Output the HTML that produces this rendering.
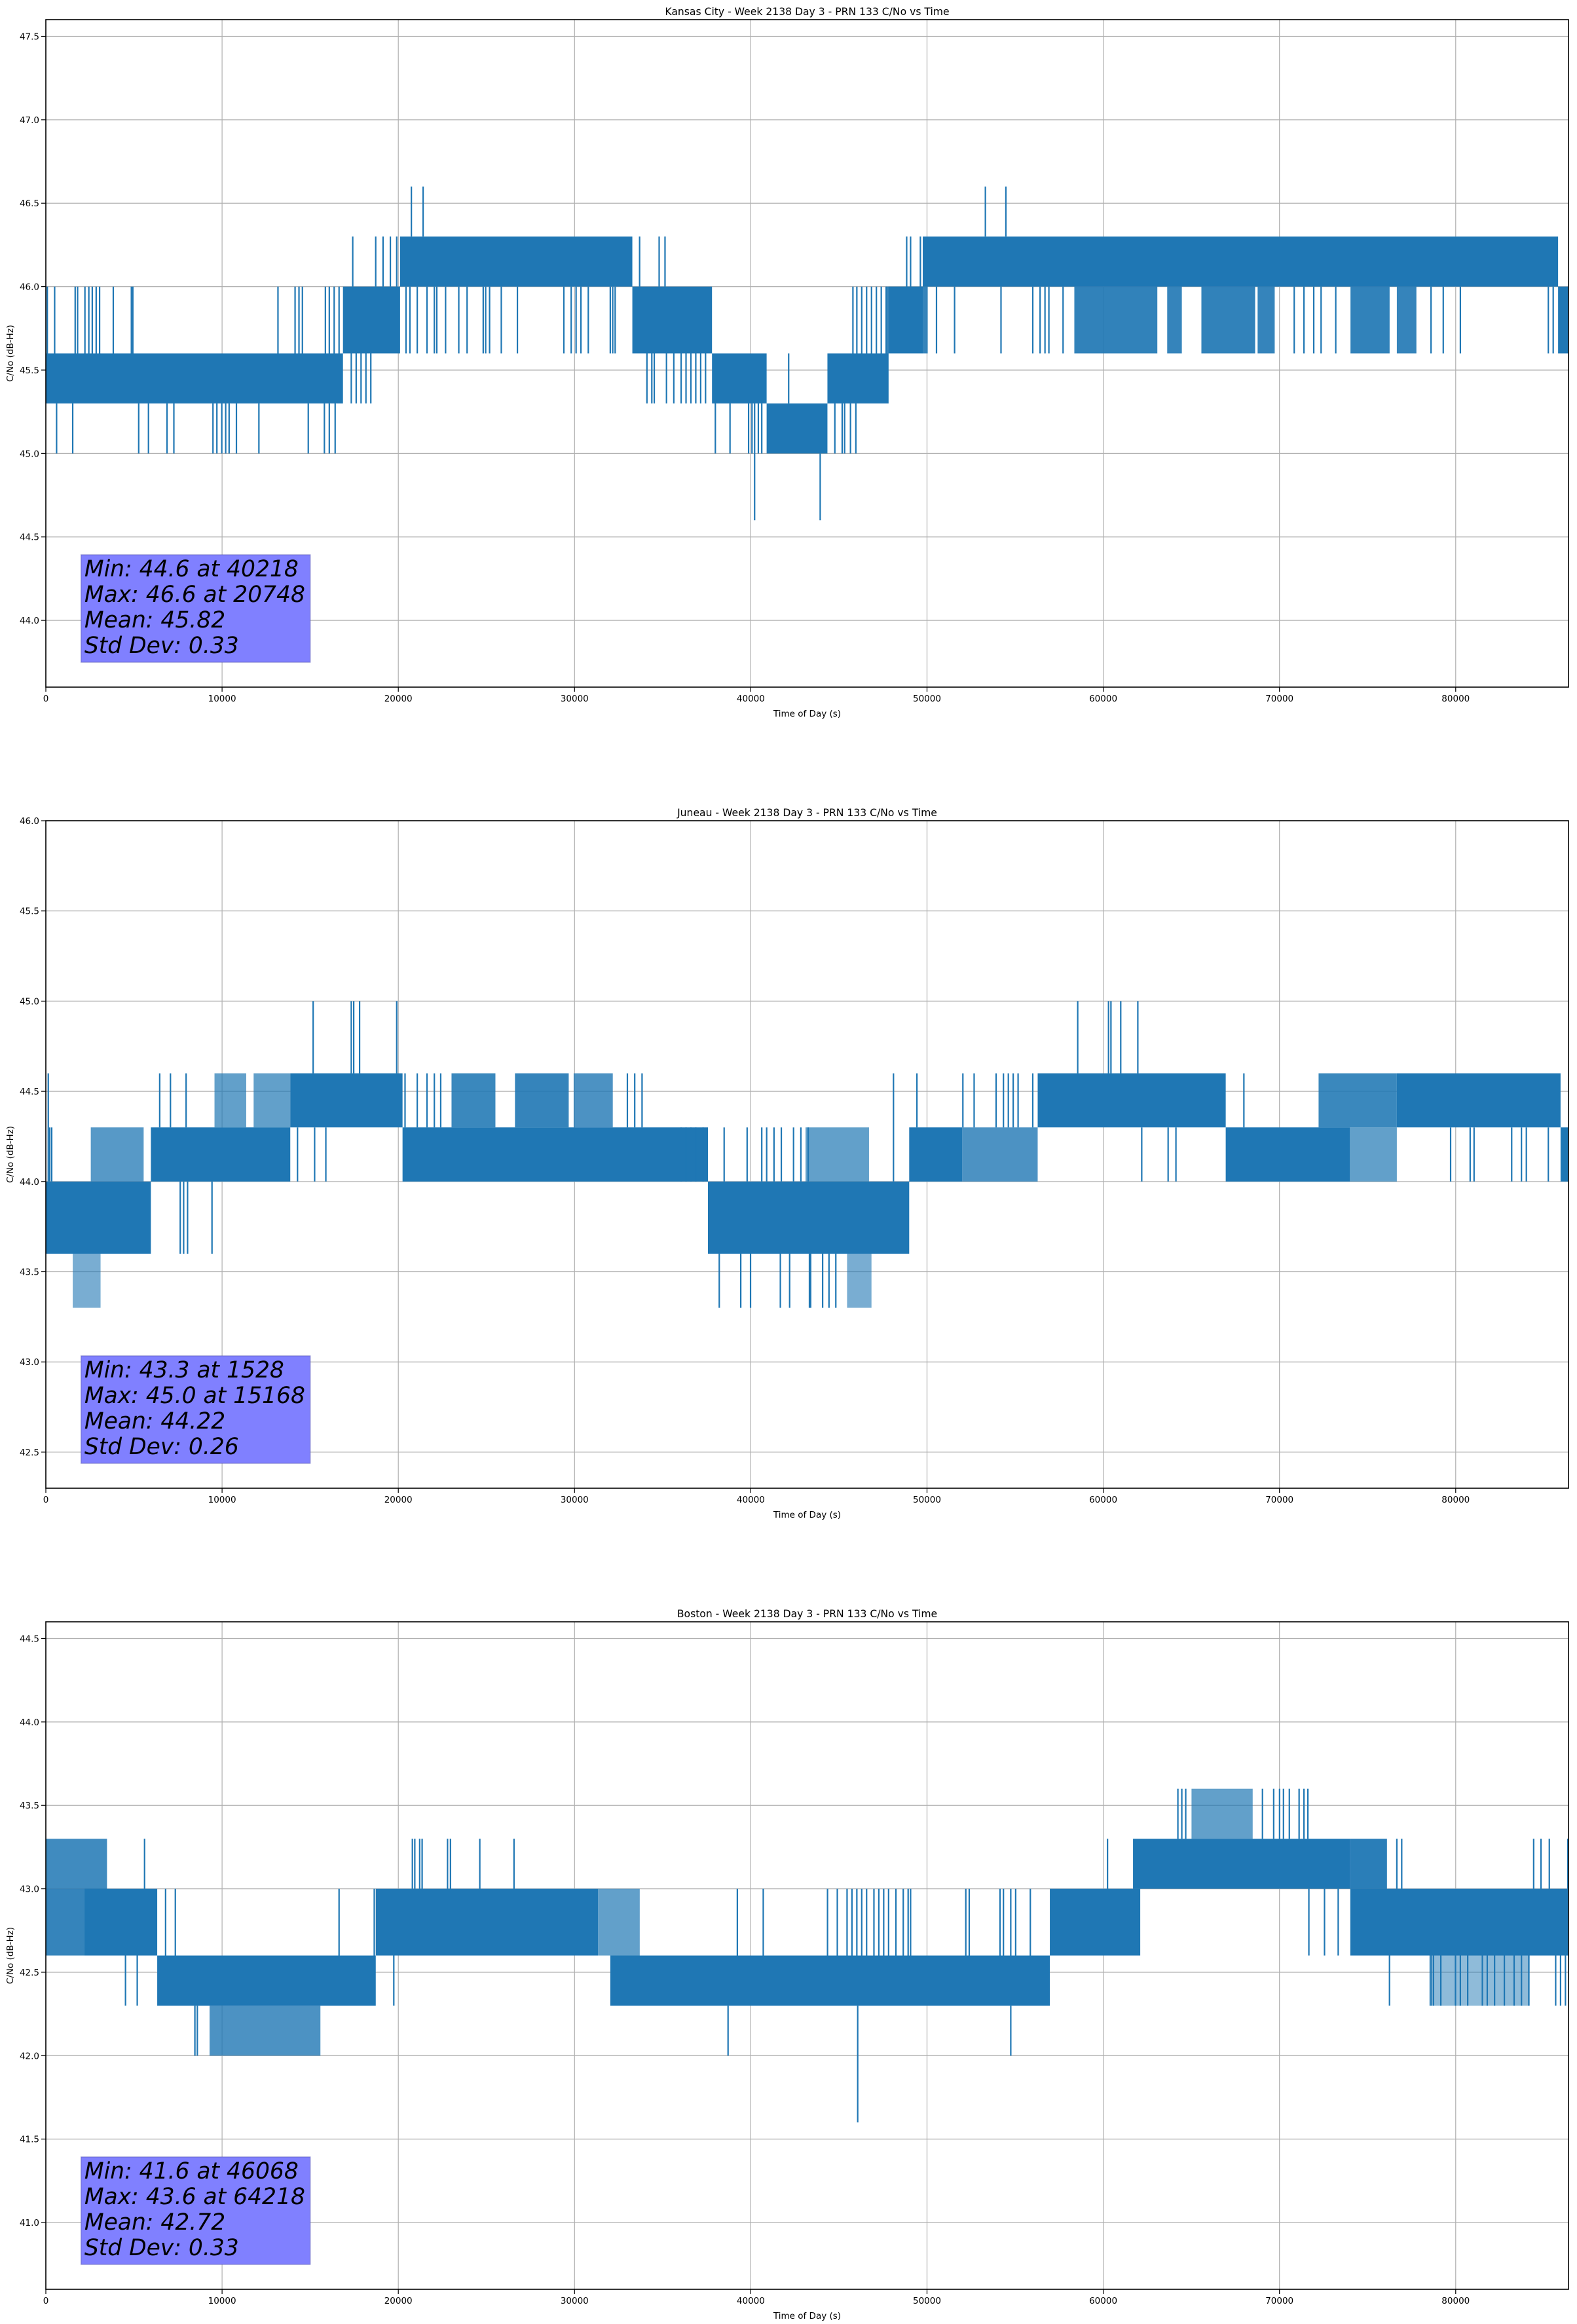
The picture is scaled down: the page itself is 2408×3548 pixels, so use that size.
<!DOCTYPE html>
<html><head><meta charset="utf-8"><style>
html,body{margin:0;padding:0;background:#fff;}
svg{display:block;}
text{font-family:"DejaVu Sans","Liberation Sans",sans-serif;fill:#000;}
</style></head>
<body>
<svg id="fig" xmlns="http://www.w3.org/2000/svg" width="2408" height="3548" viewBox="0 0 2408 3548"></svg>
<script>
// ---------- Kansas City ----------
const p1BandStart=[0,16860,20100,33280,37800,40900,44350,47820,49760,85810];
const p1BandEnd=[16860,20100,33280,37800,40900,44350,47820,49760,85810,86400];
const p1BandLow=[45.3,45.6,46.0,45.6,45.3,45.0,45.3,45.6,46.0,45.6];
const p1BandHigh=[45.6,46.0,46.3,46.0,45.6,45.3,45.6,46.0,46.3,46.0];
const p1HatchStart=[47680,58360,63630,65570,68760,74030,76660];
const p1HatchEnd=[50040,63070,64460,68620,69730,76250,77770];
const p1HatchLow=[45.6,45.6,45.6,45.6,45.6,45.6,45.6];
const p1HatchHigh=[46.0,46.0,46.0,46.0,46.0,46.0,46.0];
const p1HatchDensity=[0.9,0.92,0.9,0.92,0.9,0.92,0.9];
const p1SpikeT=[83,500,1664,1802,2218,2440,2634,2856,3050,3827,4853,4936,13172,14142,14364,14558,15862,16084,16361,16638,
610,1525,5269,5823,6877,7265,9484,9706,9983,10205,10399,10815,12090,14891,15806,16084,16416,
17414,18718,19134,19550,19910,17331,17609,17886,18163,18440,
20742,21408,20437,20659,21075,21629,22045,22184,22683,23432,23903,24818,24957,25179,25844,26759,29394,29810,30087,30364,30780,32028,32167,32305,
33692,34801,35134,34108,34385,34524,35217,35633,36049,36326,36603,36880,37157,37434,
37990,38822,39876,40070,40430,40624,40218,42150,43939,
44771,45187,45325,45658,45963,45797,46019,46296,46573,46851,47128,47405,47682,
48847,49069,49624,53312,54476,
50539,51565,54199,56002,56417,56695,56917,57721,70837,71391,71946,72362,73194,78601,79294,80265,85256,85533];
const p1SpikeV=[46.0,46.0,46.0,46.0,46.0,46.0,46.0,46.0,46.0,46.0,46.0,46.0,46.0,46.0,46.0,46.0,46.0,46.0,46.0,46.0,
45.0,45.0,45.0,45.0,45.0,45.0,45.0,45.0,45.0,45.0,45.0,45.0,45.0,45.0,45.0,45.0,45.0,
46.3,46.3,46.3,46.3,46.3,45.3,45.3,45.3,45.3,45.3,
46.6,46.6,45.6,45.6,45.6,45.6,45.6,45.6,45.6,45.6,45.6,45.6,45.6,45.6,45.6,45.6,45.6,45.6,45.6,45.6,45.6,45.6,45.6,45.6,
46.3,46.3,46.3,45.3,45.3,45.3,45.3,45.3,45.3,45.3,45.3,45.3,45.3,45.3,
45.0,45.0,45.0,45.0,45.0,45.0,44.6,45.6,44.6,
45.0,45.0,45.0,45.0,45.0,46.0,46.0,46.0,46.0,46.0,46.0,46.0,46.0,
46.3,46.3,46.3,46.6,46.6,
45.6,45.6,45.6,45.6,45.6,45.6,45.6,45.6,45.6,45.6,45.6,45.6,45.6,45.6,45.6,45.6,45.6,45.6];
const p1Stats=["Min: 44.6 at 40218","Max: 46.6 at 20748","Mean: 45.82","Std Dev: 0.33"];

// ---------- Juneau ----------
const p2BandStart=[0,5960,13870,20240,37570,48990,56280,66950,76660,85950];
const p2BandEnd=[5960,13870,20240,37570,48990,52000,66950,74000,85950,86400];
const p2BandLow=[43.6,44.0,44.3,44.0,43.6,44.0,44.3,44.0,44.3,44.0];
const p2BandHigh=[44.0,44.3,44.6,44.3,44.0,44.3,44.6,44.3,44.6,44.3];
const p2HatchStart=[1525,2550,9570,11790,23020,26620,29950,43107,45464,52000,72220,74000];
const p2HatchEnd=[3105,5550,11370,13870,25510,29670,32170,46710,46850,56280,76660,76660];
const p2HatchLow=[43.3,44.0,44.3,44.3,44.3,44.3,44.3,44.0,43.3,44.0,44.3,44.0];
const p2HatchHigh=[43.6,44.3,44.6,44.6,44.6,44.6,44.6,44.3,43.6,44.3,44.6,44.3];
const p2HatchDensity=[0.6,0.75,0.7,0.7,0.88,0.9,0.8,0.7,0.6,0.8,0.88,0.7];
const p2SpikeT=[139,222,333,6461,7071,7959,7626,7820,8042,9428,
15168,17331,17470,17803,19910,14281,15252,15889,
20382,21075,21629,22045,22406,32999,33415,33831,
38212,39432,39987,41678,42205,43397,43329,44078,44438,44826,
36049,36326,36603,36880,37296,38489,39793,40624,40902,41318,41734,42427,42843,43259,
48098,49429,52036,52674,53922,54338,54615,54892,55169,56001,
58552,60300,60438,60993,61963,62185,63682,64126,67981,
79711,80820,81042,83177,83732,84009,85256];
const p2SpikeV=[44.6,44.3,44.3,44.6,44.6,44.6,43.6,43.6,43.6,43.6,
45.0,45.0,45.0,45.0,45.0,44.0,44.0,44.0,
44.6,44.6,44.6,44.6,44.6,44.6,44.6,44.6,
43.3,43.3,43.3,43.3,43.3,43.3,43.3,43.3,43.3,43.3,
44.3,44.3,44.3,44.3,44.3,44.3,44.3,44.3,44.3,44.3,44.3,44.3,44.3,44.3,
44.6,44.6,44.6,44.6,44.6,44.6,44.6,44.6,44.6,44.6,
45.0,45.0,45.0,45.0,45.0,44.0,44.0,44.0,44.6,
44.0,44.0,44.0,44.0,44.0,44.0,44.0];
const p2Stats=["Min: 43.3 at 1528","Max: 45.0 at 15168","Mean: 44.22","Std Dev: 0.26"];

// ---------- Boston ----------
const p3BandStart=[2200,6320,18720,32030,56970,61690,74020];
const p3BandEnd=[6320,18720,31330,56970,62100,74020,86400];
const p3BandLow=[42.6,42.3,42.6,42.3,42.6,43.0,42.6];
const p3BandHigh=[43.0,42.6,43.0,42.6,43.0,43.3,43.0];
const p3HatchStart=[0,0,9290,31330,65010,78500,74020];
const p3HatchEnd=[3470,3470,15580,33700,68480,84200,76100];
const p3HatchLow=[43.0,42.6,42.0,42.6,43.3,42.3,43.0];
const p3HatchHigh=[43.3,43.0,42.3,43.0,43.6,42.6,43.3];
const p3HatchDensity=[0.85,0.9,0.8,0.7,0.7,0.5,0.95];
const p3SpikeT=[5601,4520,5186,6794,7348,16638,18635,8458,8596,
20798,20936,21213,21352,22794,22960,24624,26565,19744,
39238,40708,38711,
44355,44910,45464,45741,46019,46296,46573,46989,47266,47543,47820,48237,48653,48930,49069,52202,52396,54144,54338,54753,55031,55863,46068,54754,
60244,64237,64459,64681,69035,69672,70005,70227,70560,71114,71391,71613,71669,72556,73333,
76660,76937,84424,84840,85312,86365,
76243,78602,78740,79156,79988,80265,80681,81513,81790,82206,82761,83316,83732,84148,85673,85950,86227];
const p3SpikeV=[43.3,42.3,42.3,43.0,43.0,43.0,43.0,42.0,42.0,
43.3,43.3,43.3,43.3,43.3,43.3,43.3,43.3,42.3,
43.0,43.0,42.0,
43.0,43.0,43.0,43.0,43.0,43.0,43.0,43.0,43.0,43.0,43.0,43.0,43.0,43.0,43.0,43.0,43.0,43.0,43.0,43.0,43.0,43.0,41.6,42.0,
43.3,43.6,43.6,43.6,43.6,43.6,43.6,43.6,43.6,43.6,43.6,43.6,42.6,42.6,42.6,
43.3,43.3,43.3,43.3,43.3,43.3,
42.3,42.3,42.3,42.3,42.3,42.3,42.3,42.3,42.3,42.3,42.3,42.3,42.3,42.3,42.3,42.3,42.3];
const p3Stats=["Min: 41.6 at 46068","Max: 43.6 at 64218","Mean: 42.72","Std Dev: 0.33"];

const xTicks=[0,10000,20000,30000,40000,50000,60000,70000,80000];
const p1YTicks=[44.0,44.5,45.0,45.5,46.0,46.5,47.0,47.5];
const p2YTicks=[42.5,43.0,43.5,44.0,44.5,45.0,45.5,46.0];
const p3YTicks=[41.0,41.5,42.0,42.5,43.0,43.5,44.0,44.5];

const NS="http://www.w3.org/2000/svg";
const svg=document.getElementById('fig');
const L=70,R=2395,PH=1019,XMAX=86400,COLOR="#1f77b4";
function mk(tag,attrs,parent){const e=document.createElementNS(NS,tag);for(const k in attrs)e.setAttribute(k,attrs[k]);(parent||svg).appendChild(e);return e;}

function drawPlot(idx,top,ymin,ymax,yTicks,title,bS,bE,bL,bH,hS,hE,hL,hH,hD,sT,sV,stats){
  const g=mk('g',{});
  
  
  const bottom=top+PH;
  const X=t=>L+t/XMAX*(R-L);
  const Y=v=>top+(ymax-v)/(ymax-ymin)*PH;
  const cid='clip'+idx;
  const cp=mk('clipPath',{id:cid},g);
  mk('rect',{x:L,y:top,width:R-L,height:PH},cp);
  const grid=mk('g',{stroke:'#b0b0b0','stroke-width':1.2},g);
  
  
  xTicks.forEach(t=>{mk('line',{x1:X(t),x2:X(t),y1:top,y2:bottom},grid);});
  yTicks.forEach(v=>{mk('line',{x1:L,x2:R,y1:Y(v),y2:Y(v)},grid);});
  const ser=mk('g',{'clip-path':'url(#'+cid+')'},g);
  
  
  for(let i=0;i<bS.length;i++){
    const r=mk('rect',{x:X(bS[i]),y:Y(bH[i]),width:Math.max(1,X(bE[i])-X(bS[i])),height:Y(bL[i])-Y(bH[i]),fill:COLOR},ser);
    
    
  }
  for(let i=0;i<hS.length;i++){
    const r=mk('rect',{x:X(hS[i]),y:Y(hH[i]),width:Math.max(1,X(hE[i])-X(hS[i])),height:Y(hL[i])-Y(hH[i]),fill:COLOR,'fill-opacity':hD[i]},ser);
    
    
  }
  function baseAt(t,v){
    for(let i=0;i<bS.length;i++){if(t>=bS[i]&&t<=bE[i])return v>bH[i]?bH[i]:bL[i];}
    for(let i=0;i<hS.length;i++){if(t>=hS[i]&&t<=hE[i])return v>hH[i]?hH[i]:hL[i];}
    return v;
  }
  for(let i=0;i<sT.length;i++){
    const b=baseAt(sT[i],sV[i]);
    const ln=mk('line',{x1:X(sT[i]),x2:X(sT[i]),y1:Y(b),y2:Y(sV[i]),stroke:COLOR,'stroke-width':2.2},ser);
    
    
  }
  const sp=mk('rect',{x:L,y:top,width:R-L,height:PH,fill:'none',stroke:'#000','stroke-width':1.6},g);
  
  
  xTicks.forEach(t=>{
    mk('line',{x1:X(t),x2:X(t),y1:bottom,y2:bottom+7,stroke:'#000','stroke-width':1.2},g);
    const tx=mk('text',{x:X(t),y:bottom+22,'text-anchor':'middle','font-size':13.5},g);
    tx.textContent=String(t);
    
    
  });
  yTicks.forEach(v=>{
    mk('line',{x1:L-7,x2:L,y1:Y(v),y2:Y(v),stroke:'#000','stroke-width':1.2},g);
    const tx=mk('text',{x:L-10,y:Y(v)+5,'text-anchor':'end','font-size':13.5},g);
    tx.textContent=v.toFixed(1);
    
    
  });
  const tt=mk('text',{x:(L+R)/2,y:top-7,'text-anchor':'middle','font-size':15.6},g);
  tt.textContent=title;
  
  
  const xl=mk('text',{x:(L+R)/2,y:bottom+45,'text-anchor':'middle','font-size':13.5},g);
  xl.textContent='Time of Day (s)';
  
  
  const cy=(top+bottom)/2;
  const yl=mk('text',{x:20,y:cy,'text-anchor':'middle','font-size':13.5,transform:'rotate(-90 20 '+cy+')'},g);
  yl.textContent='C/No (dB-Hz)';
  
  
  const bx=mk('rect',{x:X(2000),y:bottom-202,width:X(15000)-X(2000),height:164,fill:'#8080ff',stroke:'#6060c0','stroke-opacity':0.6,'stroke-width':1.5},g);
  
  
  const offs=[169,130,91,52];
  stats.forEach((s,i)=>{
    const st=mk('text',{x:X(2000)+5,y:bottom-offs[i],'font-size':34.5,'font-style':'italic'},g);
    st.textContent=s;
    
    
  });
}
drawPlot(1,30,43.6,47.6,p1YTicks,'Kansas City - Week 2138 Day 3 - PRN 133 C/No vs Time',p1BandStart,p1BandEnd,p1BandLow,p1BandHigh,p1HatchStart,p1HatchEnd,p1HatchLow,p1HatchHigh,p1HatchDensity,p1SpikeT,p1SpikeV,p1Stats);
drawPlot(2,1253,42.3,46.0,p2YTicks,'Juneau - Week 2138 Day 3 - PRN 133 C/No vs Time',p2BandStart,p2BandEnd,p2BandLow,p2BandHigh,p2HatchStart,p2HatchEnd,p2HatchLow,p2HatchHigh,p2HatchDensity,p2SpikeT,p2SpikeV,p2Stats);
drawPlot(3,2476,40.6,44.6,p3YTicks,'Boston - Week 2138 Day 3 - PRN 133 C/No vs Time',p3BandStart,p3BandEnd,p3BandLow,p3BandHigh,p3HatchStart,p3HatchEnd,p3HatchLow,p3HatchHigh,p3HatchDensity,p3SpikeT,p3SpikeV,p3Stats);
</script>
</body></html>
